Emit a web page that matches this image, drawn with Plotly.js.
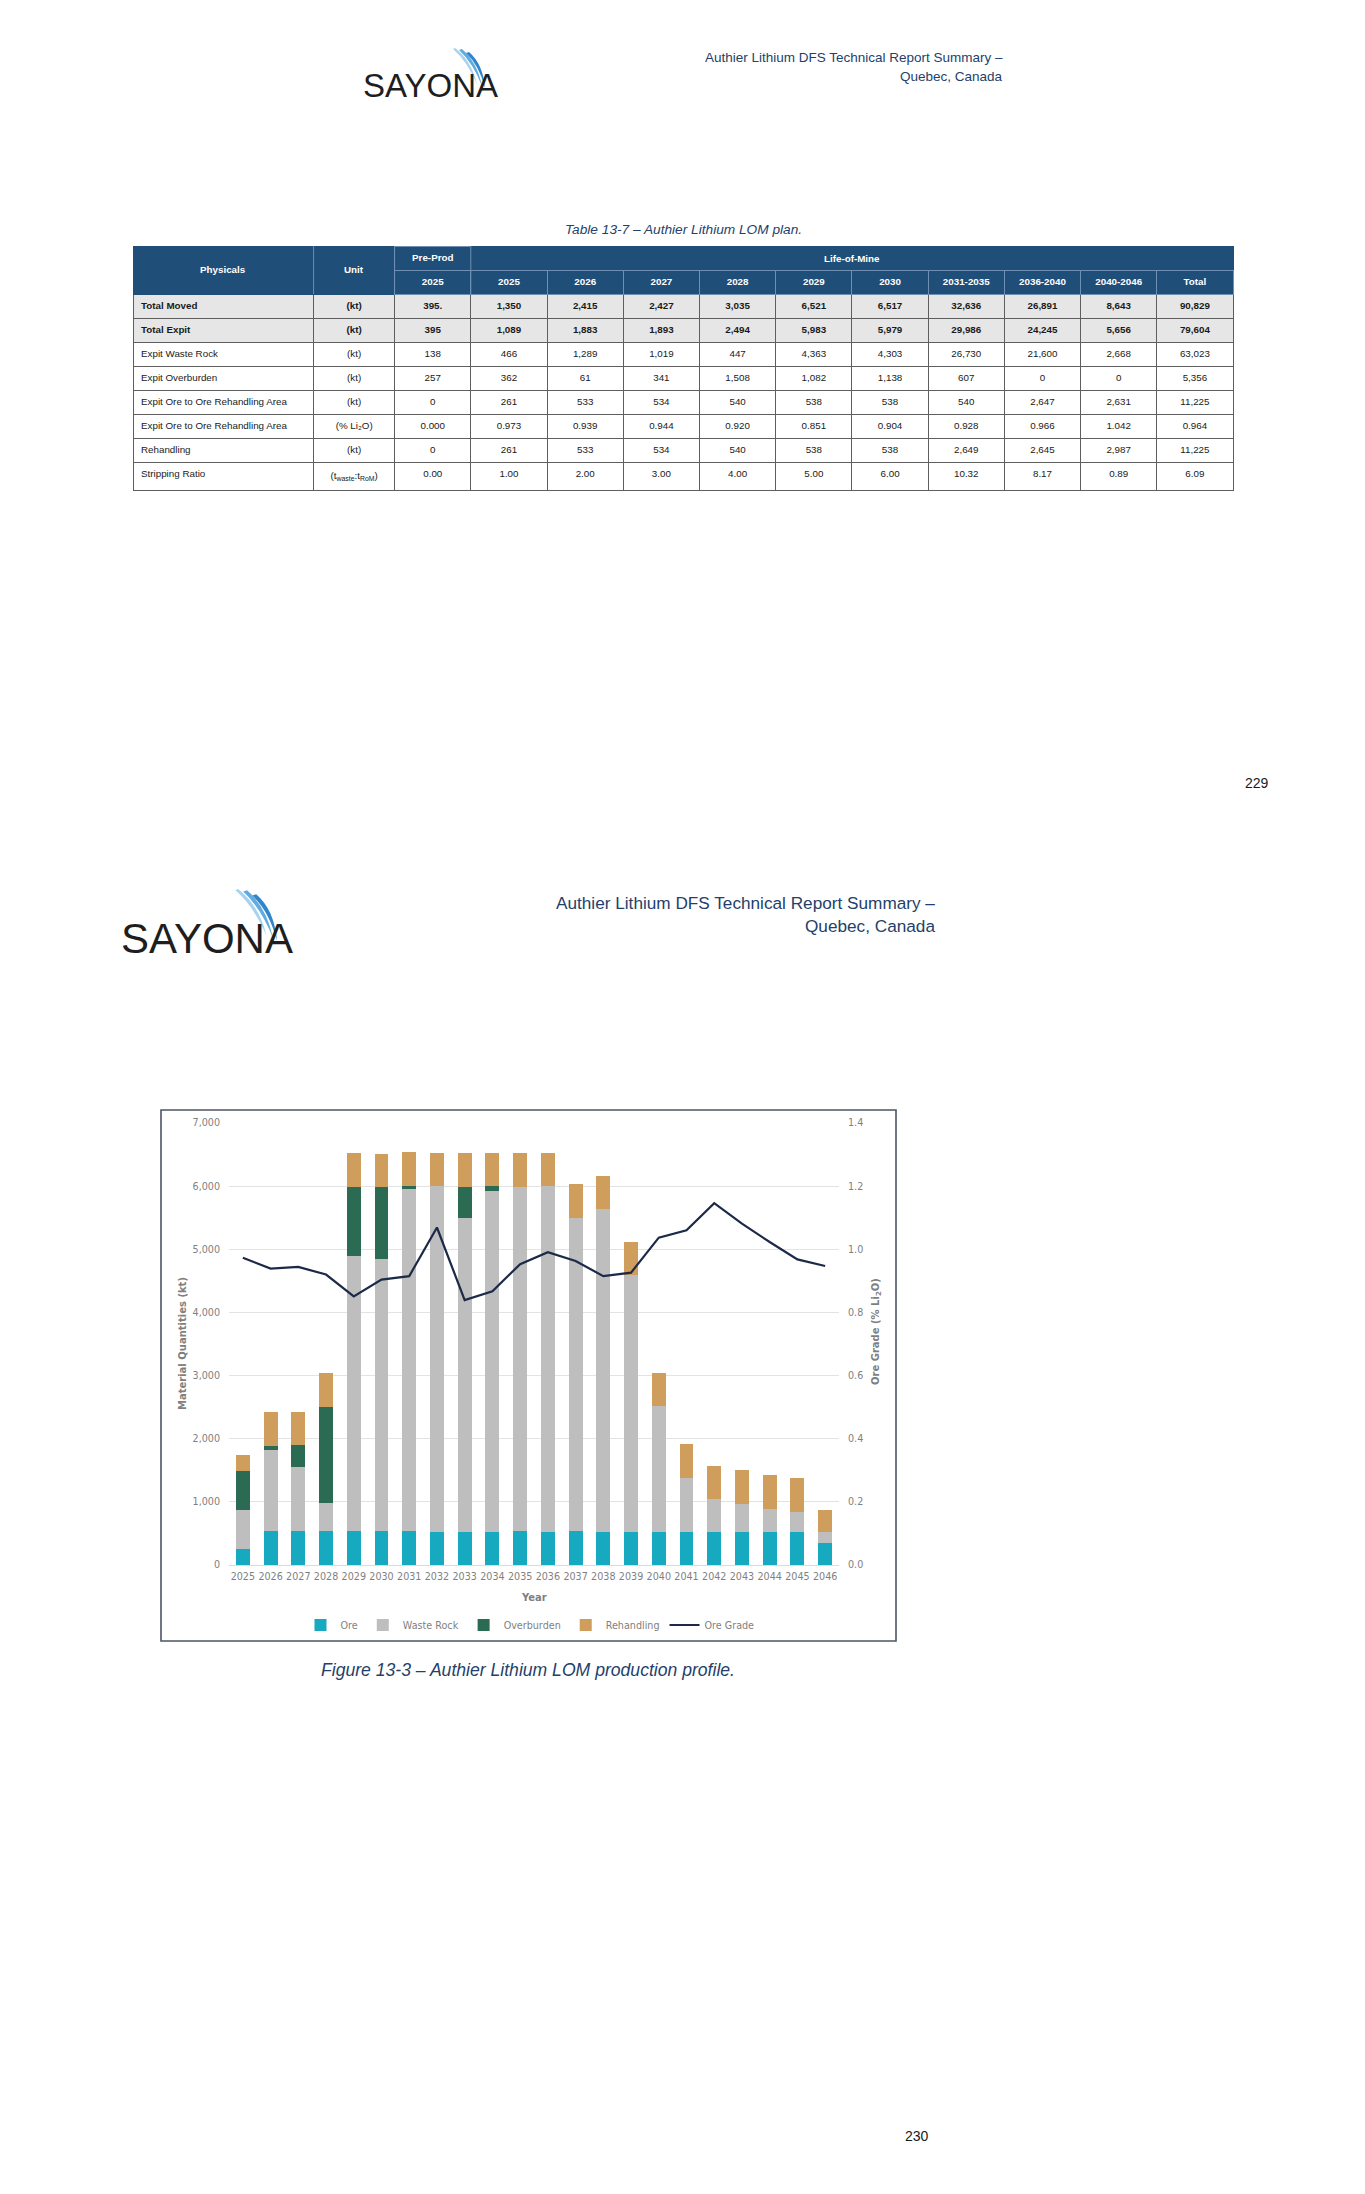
<!DOCTYPE html>
<html>
<head>
<meta charset="utf-8">
<script src="https://cdn.plot.ly/plotly-3.0.1.min.js"></script>
<style>
  html, body { margin: 0; padding: 0; background: #ffffff; }
  #page { width: 1365px; height: 2194px; }
</style>
</head>
<body>
<div id="page"></div>
<script>
// ---------------- DATA ----------------
// Table 13-7 (rows)
const tableColumns = ["2025", "2025", "2026", "2027", "2028", "2029", "2030", "2031-2035", "2036-2040", "2040-2046", "Total"];
const rowLabels = ["Total Moved", "Total Expit", "Expit Waste Rock", "Expit Overburden",
  "Expit Ore to Ore Rehandling Area", "Expit Ore to Ore Rehandling Area", "Rehandling", "Stripping Ratio"];
const rowUnits = ["(kt)", "(kt)", "(kt)", "(kt)", "(kt)", "(% Li₂O)", "(kt)", "(t<sub>waste</sub>:t<sub>RoM</sub>)"];
const rowTotalMoved = ["395.", "1,350", "2,415", "2,427", "3,035", "6,521", "6,517", "32,636", "26,891", "8,643", "90,829"];
const rowTotalExpit = ["395", "1,089", "1,883", "1,893", "2,494", "5,983", "5,979", "29,986", "24,245", "5,656", "79,604"];
const rowWasteRock = ["138", "466", "1,289", "1,019", "447", "4,363", "4,303", "26,730", "21,600", "2,668", "63,023"];
const rowOverburden = ["257", "362", "61", "341", "1,508", "1,082", "1,138", "607", "0", "0", "5,356"];
const rowOreKt = ["0", "261", "533", "534", "540", "538", "538", "540", "2,647", "2,631", "11,225"];
const rowOreGrade = ["0.000", "0.973", "0.939", "0.944", "0.920", "0.851", "0.904", "0.928", "0.966", "1.042", "0.964"];
const rowRehandling = ["0", "261", "533", "534", "540", "538", "538", "2,649", "2,645", "2,987", "11,225"];
const rowStripping = ["0.00", "1.00", "2.00", "3.00", "4.00", "5.00", "6.00", "10.32", "8.17", "0.89", "6.09"];

// Figure 13-3 (by year)
const years = ["2025","2026","2027","2028","2029","2030","2031","2032","2033","2034","2035",
  "2036","2037","2038","2039","2040","2041","2042","2043","2044","2045","2046"];
const ore = [261, 533, 534, 540, 538, 538, 535, 528, 522, 530, 534,
  528, 545, 528, 523, 523, 520, 520, 520, 520, 522, 350];
const wasteRock = [604, 1289, 1019, 447, 4363, 4303, 5420, 5470, 4980, 5400, 5460,
  5470, 4950, 5105, 4075, 2000, 864, 525, 452, 373, 322, 170];
const overburden = [619, 61, 341, 1508, 1082, 1138, 45, 0, 490, 72, 0,
  0, 0, 0, 0, 0, 0, 0, 0, 0, 0, 0];
const rehandling = [261, 533, 534, 540, 538, 538, 535, 528, 530, 528, 528,
  530, 545, 530, 520, 520, 530, 530, 525, 525, 527, 350];
const oreGrade = [0.973, 0.939, 0.944, 0.920, 0.851, 0.904, 0.915, 1.069, 0.839, 0.867, 0.953,
  0.991, 0.963, 0.915, 0.926, 1.037, 1.060, 1.146, 1.081, 1.023, 0.968, 0.947];

// ---------------- LAYOUT HELPERS ----------------
const W = 1365, H = 2194;
const px = x => x / W;
const py = y => 1 - y / H;
const docFont = "Liberation Sans Narrow, Arial Narrow, Liberation Sans, sans-serif";
const chartFont = "DejaVu Sans, Verdana, sans-serif";
const navy = "#243F6B";
const hdrBlue = "#1F4E79";
const hdrLine = "#6F8FB3";

// ---------------- TABLE ----------------
const bodyRows = [rowTotalMoved, rowTotalExpit, rowWasteRock, rowOverburden, rowOreKt, rowOreGrade, rowRehandling, rowStripping];
const boldRow = [true, true, false, false, false, false, false, false];
const cellCols = [rowLabels, rowUnits];
for (let c = 0; c < tableColumns.length; c++) {
  cellCols.push(bodyRows.map(r => r[c]));
}
const nCols = cellCols.length;
const rowFill = boldRow.map(b => b ? "#E7E6E6" : "#FFFFFF");
const rowWeight = boldRow.map(b => b ? "bold" : "normal");
const cellFill = cellCols.map(() => rowFill);
const cellWeight = cellCols.map(() => rowWeight);

const headerVals = [["", ""], ["", ""], ["Pre-Prod", tableColumns[0]]];
for (let c = 1; c < tableColumns.length; c++) headerVals.push(["", tableColumns[c]]);
const headerLine = headerVals.map((_, c) => {
  if (c < 2) return [hdrBlue, hdrBlue];
  if (c === 2) return [hdrLine, hdrLine];
  return [hdrBlue, hdrLine];
});

const colWidths = [180.6, 81].concat(tableColumns.map(() => 76.2));

const tableTrace = {
  type: "table",
  domain: { x: [px(133), px(1233)], y: [py(496), py(246)] },
  columnwidth: colWidths,
  header: {
    values: headerVals,
    height: 24,
    align: "center",
    fill: { color: hdrBlue },
    line: { color: headerLine, width: 1 },
    font: { family: docFont, size: 9.8, color: "#FFFFFF", weight: "bold" }
  },
  cells: {
    values: cellCols,
    height: 24,
    align: ["left"].concat(Array(nCols - 1).fill("center")),
    fill: { color: cellFill },
    line: { color: "#5E5E5E", width: 1 },
    font: { family: docFont, size: 9.8, color: "#1A1A1A", weight: cellWeight }
  }
};

// ---------------- CHART ----------------
const plotL = 229, plotR = 839, plotT = 1123, plotB = 1565;
const cOre = "#17A9BF", cWaste = "#BEBEBE", cOB = "#2C6B53", cReh = "#CF9D5C", cLine = "#1C2A48";

const barCommon = { type: "bar", x: years, xaxis: "x", yaxis: "y", hoverinfo: "skip" };
const traces = [
  tableTrace,
  Object.assign({}, barCommon, { name: "Ore", y: ore, marker: { color: cOre, line: { width: 0 } } }),
  Object.assign({}, barCommon, { name: "Waste Rock", y: wasteRock, marker: { color: cWaste, line: { width: 0 } } }),
  Object.assign({}, barCommon, { name: "Overburden", y: overburden, marker: { color: cOB, line: { width: 0 } } }),
  Object.assign({}, barCommon, { name: "Rehandling", y: rehandling, marker: { color: cReh, line: { width: 0 } } }),
  { type: "scatter", mode: "lines", name: "Ore Grade", x: years, y: oreGrade, xaxis: "x", yaxis: "y2",
    line: { color: cLine, width: 2.2 }, hoverinfo: "skip" }
];

const tickFont = { family: chartFont, size: 9.6, color: "#7F7F7F" };
const titleFont = { family: chartFont, size: 10, color: "#7F7F7F" };

// Logo swoosh helper (paths in paper coordinates)
function swoosh(pts, color) {
  const p = pts.map(([x, y]) => [px(x), py(y)]);
  const d = "M" + p[0][0] + "," + p[0][1] + " Q" + p[1][0] + "," + p[1][1] + " " + p[2][0] + "," + p[2][1] +
            " Q" + p[3][0] + "," + p[3][1] + " " + p[4][0] + "," + p[4][1] + " Z";
  return { type: "path", xref: "paper", yref: "paper", path: d, fillcolor: color, line: { width: 0 }, layer: "above" };
}
function logoSwooshes(x0, y0, s) {
  const T = (dx, dy) => [x0 + dx * s, y0 + dy * s];
  return [
    swoosh([T(0, 0), T(16, 12), T(22, 36), T(12, 13), T(-2, 1)], "#A6D3F0"),
    swoosh([T(7, 1), T(22, 14), T(27, 38), T(18, 15), T(4, 2)], "#62ABDF"),
    swoosh([T(14, 4), T(28, 16), T(30, 40), T(24, 17), T(11, 5)], "#2F86CC")
  ];
}

const shapes = [
  // chart frame
  { type: "rect", xref: "paper", yref: "paper", x0: px(161), x1: px(896), y0: py(1641), y1: py(1110),
    line: { color: "#4B5566", width: 1.6 }, fillcolor: "rgba(0,0,0,0)", layer: "below" },
  // table header dividers
  { type: "line", xref: "paper", yref: "paper", x0: px(313.6), x1: px(313.6), y0: py(294), y1: py(246), line: { color: hdrLine, width: 1 }, layer: "above" },
  { type: "line", xref: "paper", yref: "paper", x0: px(394.6), x1: px(394.6), y0: py(294), y1: py(246), line: { color: hdrLine, width: 1 }, layer: "above" },
  { type: "line", xref: "paper", yref: "paper", x0: px(470.8), x1: px(470.8), y0: py(294), y1: py(246), line: { color: hdrLine, width: 1 }, layer: "above" }
].concat(logoSwooshes(455, 48, 1.0)).concat(logoSwooshes(238, 889, 1.3));

function note(text, x, y, opts) {
  return Object.assign({ text: text, x: px(x), y: py(y), xref: "paper", yref: "paper",
    xanchor: "center", yanchor: "middle", showarrow: false }, opts);
}

const annotations = [
  // page 1 header
  note("SAYONA", 361, 85, { xanchor: "left", font: { family: "Liberation Sans, Arial, sans-serif", size: 33, color: "#1E1E1E" } }),
  note("Authier Lithium DFS Technical Report Summary –", 1005, 58, { xanchor: "right", font: { family: docFont, size: 13.5, color: navy } }),
  note("Quebec, Canada", 1005, 76.5, { xanchor: "right", font: { family: docFont, size: 13.5, color: navy } }),
  note("<i>Table 13-7 – Authier Lithium LOM plan.</i>", 683, 229, { font: { family: docFont, size: 13.7, color: navy } }),
  // merged table header labels
  note("<b>Physicals</b>", 133 + 90.3, 270, { font: { family: docFont, size: 9.8, color: "#FFFFFF" } }),
  note("<b>Unit</b>", 313.6 + 40.5, 270, { font: { family: docFont, size: 9.8, color: "#FFFFFF" } }),
  note("<b>Life-of-Mine</b>", (470.8 + 1233) / 2, 258, { font: { family: docFont, size: 9.8, color: "#FFFFFF" } }),
  note("229", 1257, 783, { font: { family: docFont, size: 14, color: "#1A1A1A" } }),
  // page 2 header
  note("SAYONA", 119, 938, { xanchor: "left", font: { family: "Liberation Sans, Arial, sans-serif", size: 42, color: "#1E1E1E" } }),
  note("Authier Lithium DFS Technical Report Summary –", 937, 903, { xanchor: "right", font: { family: docFont, size: 17.2, color: navy } }),
  note("Quebec, Canada", 937, 926, { xanchor: "right", font: { family: docFont, size: 17.2, color: navy } }),
  // chart axis titles
  note("<b>Material Quantities (kt)</b>", 182, (plotT + plotB) / 2, { textangle: -90, font: titleFont }),
  note("<b>Ore Grade (% Li<sub>2</sub>O)</b>", 876, (plotT + plotB) / 2 - 12, { textangle: -90, font: titleFont }),
  note("<b>Year</b>", (plotL + plotR) / 2, 1597, { font: titleFont }),
  // caption
  note("<i>Figure 13-3 – Authier Lithium LOM production profile.</i>", 528, 1670, { font: { family: docFont, size: 17.6, color: navy } }),
  note("230", 917, 2136, { font: { family: docFont, size: 14, color: "#1A1A1A" } })
];

const layout = {
  width: W, height: H,
  margin: { l: 0, r: 0, t: 0, b: 0, pad: 0 },
  paper_bgcolor: "#FFFFFF", plot_bgcolor: "rgba(0,0,0,0)",
  showlegend: true,
  barmode: "stack",
  bargap: 0.5,
  font: { family: chartFont, color: "#7F7F7F" },
  xaxis: {
    domain: [px(plotL), px(plotR)], anchor: "y", type: "category",
    showgrid: false, showline: false, zeroline: false, ticks: "",
    tickfont: tickFont, ticklabelstandoff: 4, fixedrange: true
  },
  yaxis: {
    domain: [py(plotB), py(plotT)], anchor: "x", range: [0, 7000], dtick: 1000, tickformat: ",d",
    showgrid: true, gridcolor: "#E3E3E3", gridwidth: 1, zeroline: true, zerolinecolor: "#DADADA", zerolinewidth: 1,
    showline: false, ticks: "", tickfont: tickFont, ticklabelstandoff: 8, fixedrange: true
  },
  yaxis2: {
    overlaying: "y", side: "right", anchor: "x", range: [0, 1.4], dtick: 0.2, tickformat: ".1f",
    showgrid: false, zeroline: false, showline: false, ticks: "", tickfont: tickFont, ticklabelstandoff: 8, fixedrange: true
  },
  legend: {
    orientation: "h", x: px(530), xanchor: "center", y: py(1625), yanchor: "middle",
    font: { family: chartFont, size: 9.6, color: "#7F7F7F" }, bgcolor: "rgba(0,0,0,0)",
    itemwidth: 30, traceorder: "normal", tracegroupgap: 0
  },
  shapes: shapes,
  annotations: annotations
};

Plotly.newPlot("page", traces, layout, { staticPlot: true, displayModeBar: false });
</script>
</body>
</html>
